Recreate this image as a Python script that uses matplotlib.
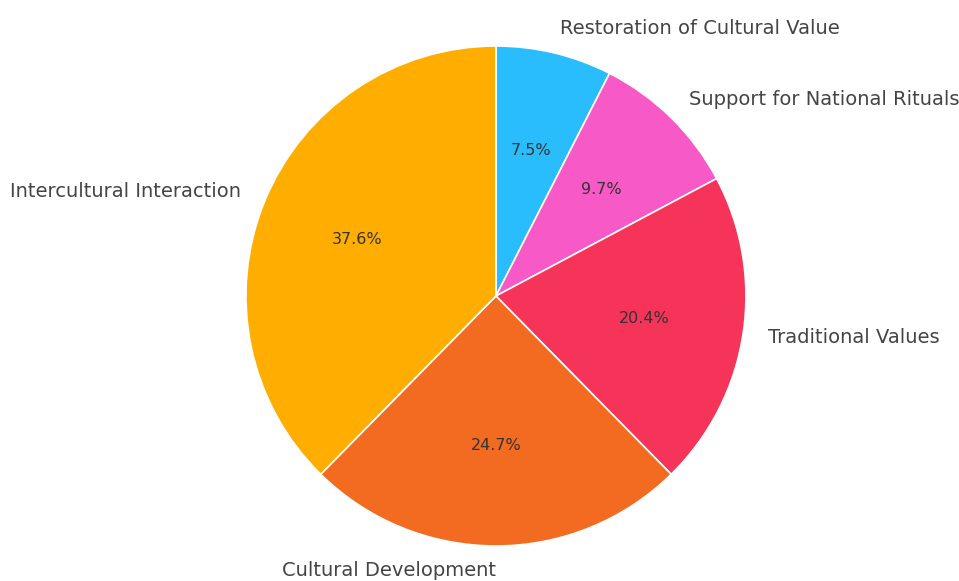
import matplotlib
matplotlib.use('Agg')
import matplotlib.pyplot as plt

plt.rcParams['font.family'] = ['DejaVu Sans']

# shares of each theme, clockwise from the top
labels = ['Restoration of Cultural Value', 'Support for National Rituals',
          'Traditional Values', 'Cultural Development', 'Intercultural Interaction']
shares = [7.5, 9.7, 20.4, 24.7, 37.6]
colors = ['#29BDFD', '#F75AC6', '#F63358', '#F26B21', '#FFAE00']

fig = plt.figure(figsize=(9.59, 5.81), dpi=100)
ax = fig.add_axes([0.1913, -0.0473, 0.6517, 1.0757])

wedges, texts, autotexts = ax.pie(
    shares, labels=labels, colors=colors, autopct='%1.1f%%',
    startangle=90, counterclock=False,
    wedgeprops={'edgecolor': 'white', 'linewidth': 1.2},
    textprops={'fontsize': 14, 'color': '#444444'})
for t in autotexts:
    t.set_fontsize(11.5)
    t.set_color('#333333')
ax.set_aspect('equal')

fig.savefig('out.png', dpi=100)
